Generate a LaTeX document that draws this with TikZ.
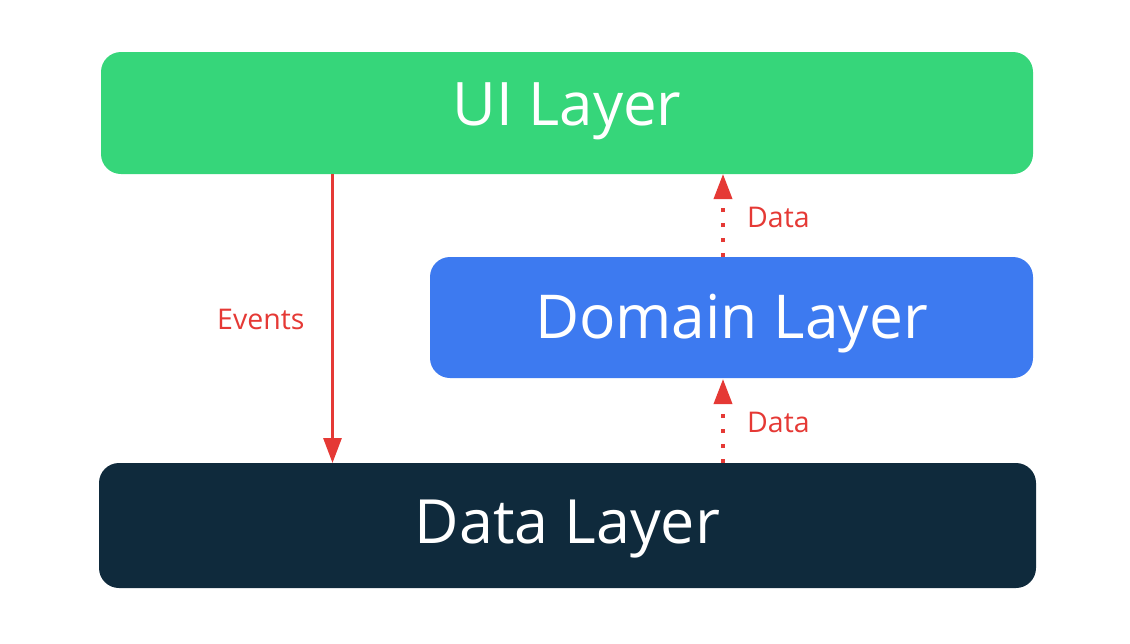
\documentclass[tikz,border=0pt]{standalone}
\usepackage{fontspec}
\setmainfont{Open Sans}
\usetikzlibrary{arrows.meta}
\definecolor{uigreen}{HTML}{36D67A}
\definecolor{domblue}{HTML}{3D7AF0}
\definecolor{datanavy}{HTML}{0F2A3C}
\definecolor{arrred}{HTML}{E53935}
\tikzset{
  layerbox/.style={rounded corners=20pt, inner sep=0pt, text=white, align=center},
  flowlabel/.style={text=arrred, font=\fontsize{28.5}{30}\selectfont, inner sep=0pt, anchor=base west},
  eventarrow/.style={draw=arrred, line width=3pt, -{Triangle[width=18pt,length=25pt]}},
  dataarrow/.style={draw=arrred, line width=3.6pt, dash pattern=on 4pt off 11pt, -{Triangle[width=18pt,length=25pt]}}
}
\begin{document}
\begin{tikzpicture}[x=1pt,y=-1pt]
\useasboundingbox (0,0) rectangle (1130,643);
\node[layerbox, fill=uigreen, minimum width=932pt, minimum height=122pt,
      font=\fontsize{60}{61}\selectfont, text height=24pt, text depth=0pt] (ui) at (567,113) {UI Layer};
\node[layerbox, fill=domblue, minimum width=603pt, minimum height=121pt,
      font=\fontsize{60.5}{61}\selectfont, text height=41pt, text depth=0pt] (domain) at (731.5,317.5) {Domain Layer};
\node[layerbox, fill=datanavy, minimum width=937pt, minimum height=125pt,
      font=\fontsize{61}{62}\selectfont, text height=35pt, text depth=0pt] (data) at (567.5,525.5) {Data Layer};
\coordinate (evtop) at (332.5,174);
\coordinate (evbot) at (332.5,463);
\draw[eventarrow] (evtop) -- (evbot);
\coordinate (d1s) at (723,257);
\coordinate (d1e) at (723,174);
\coordinate (d2s) at (723,463);
\coordinate (d2e) at (723,379);
\draw[dataarrow] (d1s) -- (d1e);
\draw[dataarrow] (d2s) -- (d2e);
\node[flowlabel] (evlabel) at (217,329) {Events};
\node[flowlabel] (dlabel1) at (747,227) {Data};
\node[flowlabel] (dlabel2) at (747,432) {Data};
\end{tikzpicture}
\end{document}
